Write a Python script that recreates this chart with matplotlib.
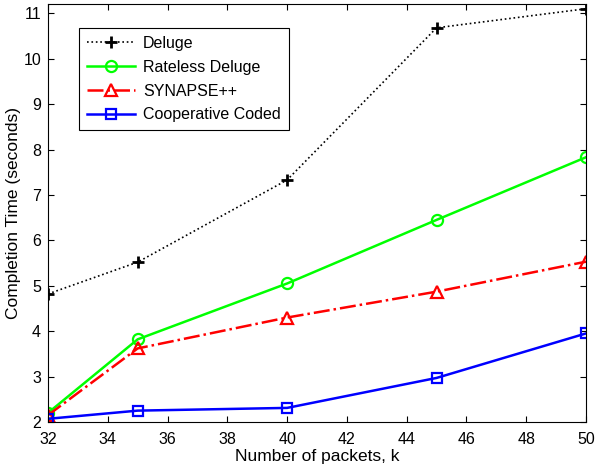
import matplotlib
matplotlib.use('Agg')
import matplotlib.pyplot as plt

plt.rcParams['font.family'] = ['Liberation Sans', 'DejaVu Sans']

k_vals      = [32, 35, 40, 45, 50]
deluge      = [4.82, 5.52, 7.33, 10.68, 11.10]
rateless    = [2.20, 3.82, 5.05, 6.45, 7.83]
synapse     = [2.15, 3.62, 4.30, 4.87, 5.53]
cooperative = [2.07, 2.25, 2.31, 2.97, 3.95]

fig = plt.figure(figsize=(5.97, 4.67), dpi=100)
ax = fig.add_axes([0.0804, 0.0964, 0.9012, 0.8946])

ax.plot(k_vals, deluge, color='black', linestyle=':', linewidth=1.2, marker='+',
        markersize=8, markeredgewidth=2, label='Deluge')
ax.plot(k_vals, rateless, color='#00ff00', linestyle='-', linewidth=1.8, marker='o',
        markersize=8, markerfacecolor='none', markeredgewidth=1.6, label='Rateless Deluge')
ax.plot(k_vals, synapse, color='red', linestyle='-.', linewidth=1.8, marker='^',
        markersize=9, markerfacecolor='none', markeredgewidth=1.6, label='SYNAPSE++')
ax.plot(k_vals, cooperative, color='blue', linestyle='-', linewidth=1.8, marker='s',
        markersize=7, markerfacecolor='none', markeredgewidth=1.6, label='Cooperative Coded')

ax.set_xlim(32, 50)
ax.set_ylim(2, 11.2)
ax.set_xticks(range(32, 51, 2))
ax.set_yticks(range(2, 12))
ax.tick_params(direction='in', top=True, right=True, labelsize=11.5, length=4)
ax.tick_params(axis='x', pad=7)
ax.tick_params(axis='y', pad=5)
ax.set_xlabel('Number of packets, k', fontsize=12.5, labelpad=2)
ax.set_ylabel('Completion Time (seconds)', fontsize=12.5, labelpad=2)

leg = ax.legend(loc='upper left', bbox_to_anchor=(0.043, 0.962), fontsize=11.5,
                fancybox=False, framealpha=1, edgecolor='black',
                handlelength=3, handletextpad=0.5, borderpad=0.5, labelspacing=0.55)
leg.get_frame().set_linewidth(0.8)

fig.savefig('out.png', dpi=100)
